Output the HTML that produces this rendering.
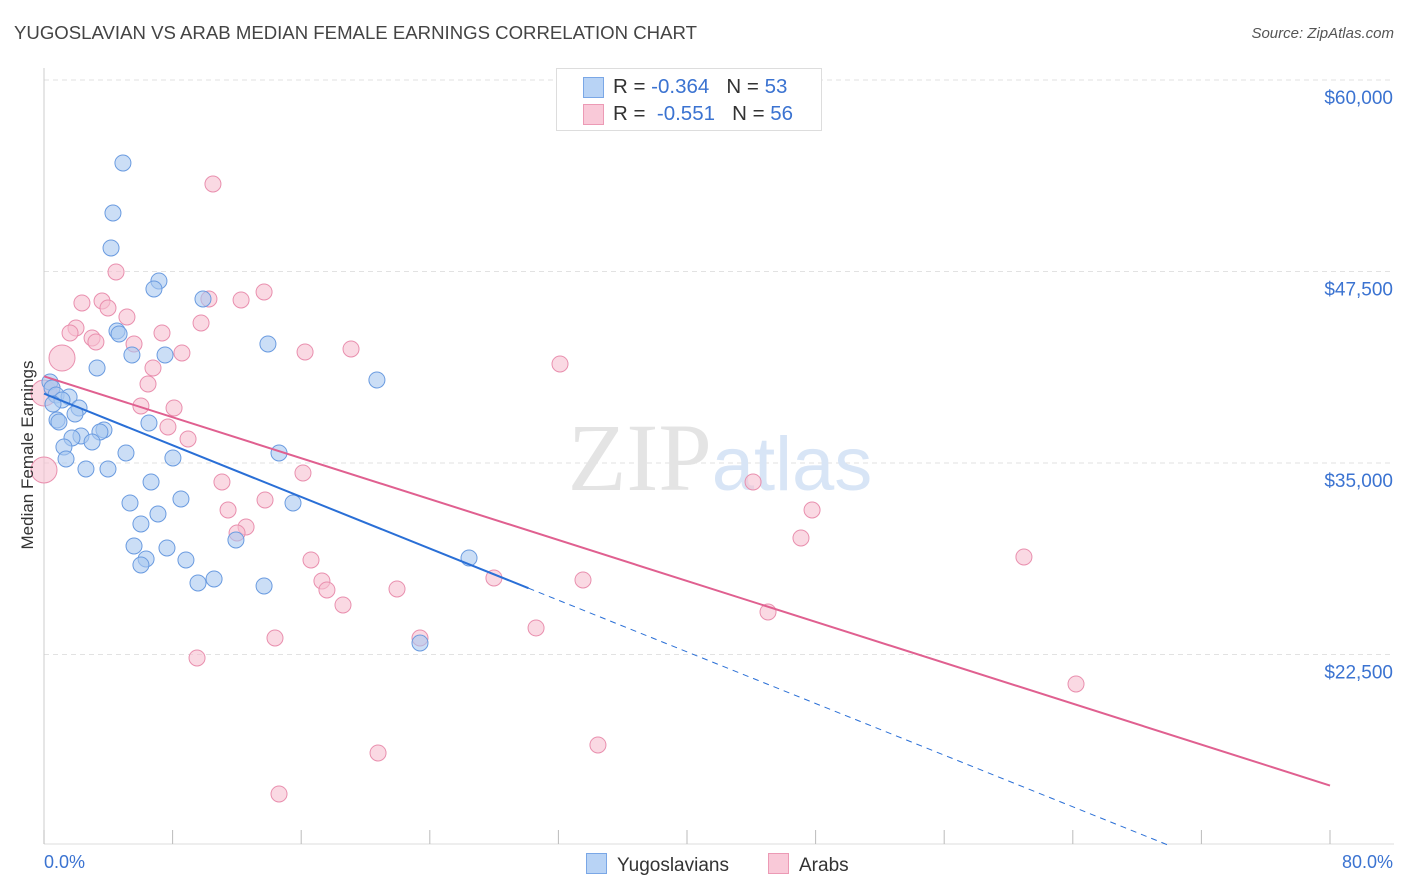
<!DOCTYPE html>
<html><head><meta charset="utf-8"><style>
body{margin:0;background:#fff;font-family:"Liberation Sans",sans-serif;}
#wrap{position:relative;width:1406px;height:892px;overflow:hidden;}
.t{position:absolute;white-space:nowrap;}
</style></head><body>
<div id="wrap">
<div class="t" style="left:14px;top:22px;font-size:18.6px;color:#444;">YUGOSLAVIAN VS ARAB MEDIAN FEMALE EARNINGS CORRELATION CHART</div>
<div class="t" style="right:12px;top:25px;font-size:15px;color:#555;font-style:italic;">Source: ZipAtlas.com</div>
<svg id="svg" width="1406" height="892" style="position:absolute;left:0;top:0"></svg>
<div class="t" style="left:556px;top:68px;width:264px;height:61px;border:1px solid #ddd;background:#fff;font-size:20.5px;color:#333;">
 <div style="position:absolute;left:26px;top:8px;width:19px;height:19px;background:#b8d3f5;border:1px solid #7aa7e6;"></div>
 <div style="position:absolute;left:56px;top:6px;">R = <span style="color:#3b73d1">-0.364</span>&nbsp;&nbsp;&nbsp;N = <span style="color:#3b73d1">53</span></div>
 <div style="position:absolute;left:26px;top:35px;width:19px;height:19px;background:#f9c9d8;border:1px solid #ec9ab5;"></div>
 <div style="position:absolute;left:56px;top:33px;">R = &nbsp;<span style="color:#3b73d1">-0.551</span>&nbsp;&nbsp;&nbsp;N = <span style="color:#3b73d1">56</span></div>
</div>
<div class="t" style="left:20px;top:455px;transform:translate(-50%,-50%) rotate(-90deg);transform-origin:center;font-size:17px;color:#333;margin-left:8px;">Median Female Earnings</div>
<div class="t" style="left:44px;top:852px;font-size:18px;color:#3b73d1;">0.0%</div>
<div class="t" style="right:13px;top:852px;font-size:18px;color:#3b73d1;">80.0%</div>
<div class="t" style="left:586px;top:853px;font-size:19px;color:#333;"><span style="display:inline-block;width:19px;height:19px;background:#b8d3f5;border:1px solid #7aa7e6;vertical-align:-3px;margin-right:10px;"></span>Yugoslavians</div>
<div class="t" style="left:768px;top:853px;font-size:19px;color:#333;"><span style="display:inline-block;width:19px;height:19px;background:#f9c9d8;border:1px solid #ec9ab5;vertical-align:-3px;margin-right:10px;"></span>Arabs</div>
</div>
<script>
const yTicks=[60000,47500,35000,22500];
const yTickLabels=["$60,000","$47,500","$35,000","$22,500"];
const yugoX=[4.91,4.29,4.17,7.15,6.84,9.89,4.54,4.67,5.47,7.53,13.93,3.30,20.71,0.37,0.50,0.75,1.56,1.12,2.18,0.81,1.93,0.93,6.53,3.73,2.30,3.48,1.74,2.99,1.24,5.10,14.62,8.02,1.37,2.61,3.98,6.66,8.52,5.35,15.49,7.09,6.03,11.94,5.60,7.65,6.35,8.83,6.03,10.58,9.58,13.69,26.44,23.39,0.56];
const yugoY=[54583,51319,49035,46881,46359,45706,43617,43421,42051,42051,42769,41202,40419,40288,39897,39440,39309,39114,38591,37808,38200,37678,37612,37155,36764,37025,36633,36372,36046,35654,35654,35328,35263,34610,34610,33761,32652,32391,32391,31673,31020,29976,29584,29454,28736,28670,28344,27430,27169,26973,28801,23253,38853];
const arabX=[10.51,4.48,13.69,2.36,3.61,12.26,10.26,3.98,5.16,9.77,1.99,1.62,7.34,2.99,3.23,5.60,19.10,16.24,8.58,1.12,6.78,32.10,6.47,0,0.50,6.03,8.09,7.71,8.96,16.11,0,11.07,44.11,47.78,11.45,13.75,12.57,12.01,47.09,16.61,60.96,33.53,27.99,17.29,17.60,18.60,21.96,45.04,30.61,14.37,23.39,9.52,64.20,20.78,34.46,14.62];
const arabY=[53212,47468,46163,45445,45575,45641,45706,45118,44531,44139,43813,43487,43487,43160,42899,42769,42442,42247,42181,41855,41202,41463,40158,39570,39897,38722,38591,37351,36568,34349,34545,33761,33761,31934,31934,32587,30824,30433,30106,28670,28866,27365,27496,27300,26712,25733,26778,25276,24232,23579,23579,22274,20577,16073,16595,13397];
const bigArab=[19,23,30];
const NS="http://www.w3.org/2000/svg";
const svg=document.getElementById('svg');
const X=p=>44+p/80*1286;
const Y=v=>80+(60000-v)/12500*191.5;
function el(t,a){const e=document.createElementNS(NS,t);for(const k in a)e.setAttribute(k,a[k]);svg.appendChild(e);return e;}
yTicks.forEach((v,i)=>{
 const g=el('line',{x1:44,x2:1394,y1:Y(v),y2:Y(v),stroke:'#e2e2e2','stroke-dasharray':'5,4'});
 
 
 const t=el('text',{x:1393,y:Y(v)+24,'text-anchor':'end','font-size':19,fill:'#3b73d1','font-family':'Liberation Sans, sans-serif'});
 t.textContent=yTickLabels[i];
 
 
});
const ax=el('line',{x1:44,x2:44,y1:68,y2:844,stroke:'#ccc'});


const bx=el('line',{x1:44,x2:1394,y1:844,y2:844,stroke:'#ddd'});


for(let i=0;i<=10;i++){const tk=el('line',{x1:X(i*8),x2:X(i*8),y1:830,y2:844,stroke:'#bbb'});
 
 }
const wm=el('text',{x:720,y:490,'text-anchor':'middle','font-size':96,fill:'#e4e4e4','font-family':'Liberation Serif, serif'});
wm.innerHTML='ZIP<tspan fill="#d8e5f6" font-family="Liberation Sans, sans-serif" font-size="76">atlas</tspan>';


function fit(xs,ys){const n=xs.length;let mx=0,my=0;xs.forEach((x,i)=>{mx+=x;my+=ys[i];});mx/=n;my/=n;let sxy=0,sxx=0;xs.forEach((x,i)=>{sxy+=(x-mx)*(ys[i]-my);sxx+=(x-mx)**2;});const b=sxy/sxx;return [my-b*mx,b];}
function pts(xs,ys,fill,stroke,name,big){xs.forEach((x,i)=>{const c=el('circle',{cx:X(x),cy:Y(ys[i]),r:big&&big.includes(i)?13:8,fill:fill,'fill-opacity':0.6,stroke:stroke,'stroke-width':1});
 
 });}
pts(arabX,arabY,'#f7bfd1','#e98fae','arab-point',bigArab);
pts(yugoX,yugoY,'#a9c8f0','#6a9be0','yugoslavian-point',null);
const [ab,as]=fit(arabX,arabY);
const pl=el('line',{x1:X(0),y1:Y(ab),x2:X(80),y2:Y(ab+as*80),stroke:'#e06090','stroke-width':2});


const [yb,ys]=fit(yugoX,yugoY);
const xe=Math.max(...yugoX)+3.7;
const bl=el('line',{x1:X(0),y1:Y(yb),x2:X(xe),y2:Y(yb+ys*xe),stroke:'#2a6fd6','stroke-width':2});


const xz=(10000-yb)/ys;
const bd=el('line',{x1:X(xe),y1:Y(yb+ys*xe),x2:X(xz),y2:Y(10000),stroke:'#2a6fd6','stroke-width':1,'stroke-dasharray':'6,5'});


</script>
</body></html>
